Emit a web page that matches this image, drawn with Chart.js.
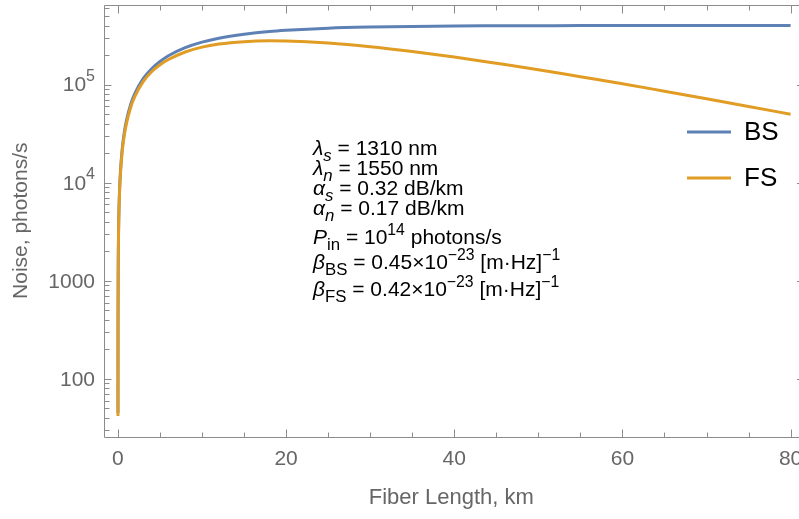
<!DOCTYPE html>
<html>
<head>
<meta charset="utf-8">
<script src="https://cdn.jsdelivr.net/npm/chart.js@4.4.1/dist/chart.umd.min.js"></script>
<style>
  html, body { margin: 0; padding: 0; background: #fff; }
</style>
</head>
<body>
<canvas id="c" width="799" height="519"></canvas>
<script>
// fiber length (km) and noise (photons/s)
const lengthKm = [0.001, 0.003, 0.01, 0.03, 0.1, 0.2, 0.3, 0.5, 0.75, 1, 1.5, 2, 3, 4, 5, 6, 8, 10, 12, 15, 18, 20, 25, 30, 35, 40, 45, 50, 55, 60, 65, 70, 75, 80];
const noiseBS = [45, 135, 451, 1350, 4490, 8930, 13300, 21900, 32500, 42700, 62300, 80800, 115000, 145000, 172000, 197000, 238000, 271000, 297000, 326000, 348000, 358000, 376000, 386000, 392000, 396000, 397500, 398600, 399200, 399500, 399700, 399850, 399920, 399950];
const noiseFS = [42, 126, 421, 1260, 4190, 8330, 12400, 20500, 30300, 39800, 58100, 75300, 107000, 135000, 159000, 180000, 215000, 241000, 259000, 274000, 279000, 278000, 265000, 243000, 217000, 191000, 165000, 142000, 120000, 102000, 85600, 71700, 59900, 49900];

const seriesNames = ["BS", "FS"];
const seriesColors = ["#5E81B5", "#E19C24"];

const xTickLabels = [0, 20, 40, 60, 80];
const yTickValues = [100, 1000, 10000, 100000];
// [base, exponent]
const yTickLabels = [["100", ""], ["1000", ""], ["10", "4"], ["10", "5"]];

// annotation text: [text, style]  style: "" normal, "i" italic, "s" subscript, "si" italic subscript, "p" superscript
const noteLines = [
  [["λ", "i"], ["s", "si"], [" = 1310 nm", ""]],
  [["λ", "i"], ["n", "si"], [" = 1550 nm", ""]],
  [["α", "i"], ["s", "si"], [" = 0.32 dB/km", ""]],
  [["α", "i"], ["n", "si"], [" = 0.17 dB/km", ""]],
  [["P", "i"], ["in", "s"], [" = 10", ""], ["14", "p"], [" photons/s", ""]],
  [["β", "i"], ["BS", "s"], [" = 0.45×10", ""], ["\u221223", "p"], [" [m·Hz]", ""], ["\u22121", "p"]],
  [["β", "i"], ["FS", "s"], [" = 0.42×10", ""], ["\u221223", "p"], [" [m·Hz]", ""], ["\u22121", "p"]]
];
const noteBaselines = [155, 175, 195, 215, 244, 269, 296];

const FONT = '"Liberation Sans", Arial, sans-serif';
const AXIS = "#8c8c8c";
const LABEL = "#666666";

function toPoints(ys) {
  return lengthKm.map((x, i) => ({ x: x, y: ys[i] }));
}

function drawRuns(ctx, runs, x, y, size) {
  for (const [t, st] of runs) {
    let fs = size, dy = 0;
    const italic = st.indexOf("i") >= 0;
    if (st[0] === "s") { fs = size * 0.8; dy = size * 0.3; }
    if (st[0] === "p") { fs = size * 0.75; dy = -size * 0.42; }
    ctx.font = (italic ? "italic " : "") + fs + "px " + FONT;
    ctx.fillText(t, x, y + dy);
    x += ctx.measureText(t).width;
  }
}

const frameTicks = {
  id: "frameTicks",
  afterDraw(chart) {
    const { ctx, chartArea: a, scales: { x, y } } = chart;
    const L = Math.round(a.left) + 0.5, B = Math.round(a.bottom) + 0.5, T = Math.round(a.top) + 0.5;
    const R = a.right + 5;
    ctx.save();
    ctx.strokeStyle = AXIS;
    ctx.lineWidth = 1;
    ctx.beginPath();
    ctx.moveTo(L, T); ctx.lineTo(L, B); ctx.lineTo(chart.width, B);
    ctx.moveTo(L, T); ctx.lineTo(chart.width, T);
    // x ticks every 5 km
    for (let v = 0; v <= 80; v += 5) {
      const px = Math.round(x.getPixelForValue(v)) + 0.5;
      const len = v % 20 === 0 ? 8 : 5;
      ctx.moveTo(px, B); ctx.lineTo(px, B - len);
      ctx.moveTo(px, T); ctx.lineTo(px, T + len);
    }
    // y ticks, decades and 2..9 in between
    for (let d = 1; d <= 5; d++) {
      for (let m = 1; m <= 9; m++) {
        const v = m * Math.pow(10, d);
        if (v < y.min || v > y.max) continue;
        const py = Math.round(y.getPixelForValue(v)) + 0.5;
        const len = m === 1 ? 7 : 5;
        ctx.moveTo(L, py); ctx.lineTo(L + len, py);
        ctx.moveTo(R, py); ctx.lineTo(R - len, py);
      }
    }
    ctx.stroke();

    // y tick labels with real superscripts
    ctx.fillStyle = LABEL;
    ctx.textBaseline = "middle";
    ctx.textAlign = "left";
    yTickValues.forEach((v, i) => {
      const [base, exp] = yTickLabels[i];
      const py = y.getPixelForValue(v) + 1;
      ctx.font = "21px " + FONT;
      const wb = ctx.measureText(base).width;
      ctx.font = "16px " + FONT;
      const we = exp ? ctx.measureText(exp).width : 0;
      const x0 = 95 - wb - we;
      ctx.font = "21px " + FONT;
      ctx.fillText(base, x0, py);
      if (exp) {
        ctx.font = "16px " + FONT;
        ctx.fillText(exp, x0 + wb, py - 9);
      }
    });

    // annotation block
    ctx.fillStyle = "#000";
    ctx.textBaseline = "alphabetic";
    noteLines.forEach((runs, i) => drawRuns(ctx, runs, 313, noteBaselines[i], 21));

    // legend
    chart.data.datasets.forEach((ds, i) => {
      const ly = 132 + i * 46;
      ctx.strokeStyle = ds.borderColor;
      ctx.lineWidth = 3;
      ctx.beginPath();
      ctx.moveTo(687, ly); ctx.lineTo(731, ly);
      ctx.stroke();
      ctx.fillStyle = "#000";
      ctx.font = "26px " + FONT;
      ctx.textBaseline = "middle";
      ctx.fillText(ds.label, 744, ly + 1);
    });
    ctx.restore();
  }
};

new Chart(document.getElementById("c").getContext("2d"), {
  type: "line",
  data: {
    datasets: [
      {
        label: seriesNames[0],
        data: toPoints(noiseBS),
        borderColor: seriesColors[0],
        borderWidth: 3,
        pointRadius: 0,
        cubicInterpolationMode: "monotone",
        fill: false,
        order: 1
      },
      {
        label: seriesNames[1],
        data: toPoints(noiseFS),
        borderColor: seriesColors[1],
        borderWidth: 3,
        pointRadius: 0,
        cubicInterpolationMode: "monotone",
        fill: false,
        order: 0
      }
    ]
  },
  options: {
    responsive: false,
    animation: false,
    layout: { padding: { top: 4.5, right: 0, bottom: 0, left: 0 } },
    plugins: {
      legend: { display: false },
      tooltip: { enabled: false }
    },
    scales: {
      x: {
        type: "linear",
        min: -1.72,
        max: 81.0,
        grid: { display: false, drawTicks: false },
        border: { display: false },
        afterBuildTicks: s => { s.ticks = xTickLabels.map(v => ({ value: v })); },
        afterFit: s => { s.height = 82; s.paddingLeft = 0; s.paddingRight = 0; },
        ticks: {
          color: LABEL,
          padding: 10,
          maxRotation: 0,
          autoSkip: false,
          font: { family: FONT, size: 21 }
        },
        title: {
          display: true,
          text: "Fiber Length, km",
          color: LABEL,
          font: { family: FONT, size: 22 },
          padding: { top: 0, bottom: 8 }
        }
      },
      y: {
        type: "logarithmic",
        min: 25.6,
        max: 655000,
        grid: { display: false, drawTicks: false },
        border: { display: false },
        afterBuildTicks: s => { s.ticks = yTickValues.map(v => ({ value: v })); },
        afterFit: s => { s.width = 103.5; s.paddingTop = 0; s.paddingBottom = 0; },
        ticks: { display: false },
        title: {
          display: true,
          text: "Noise, photons/s",
          color: LABEL,
          font: { family: FONT, size: 21 },
          padding: { top: 9, bottom: 0 }
        }
      }
    }
  },
  plugins: [frameTicks]
});
</script>
</body>
</html>
